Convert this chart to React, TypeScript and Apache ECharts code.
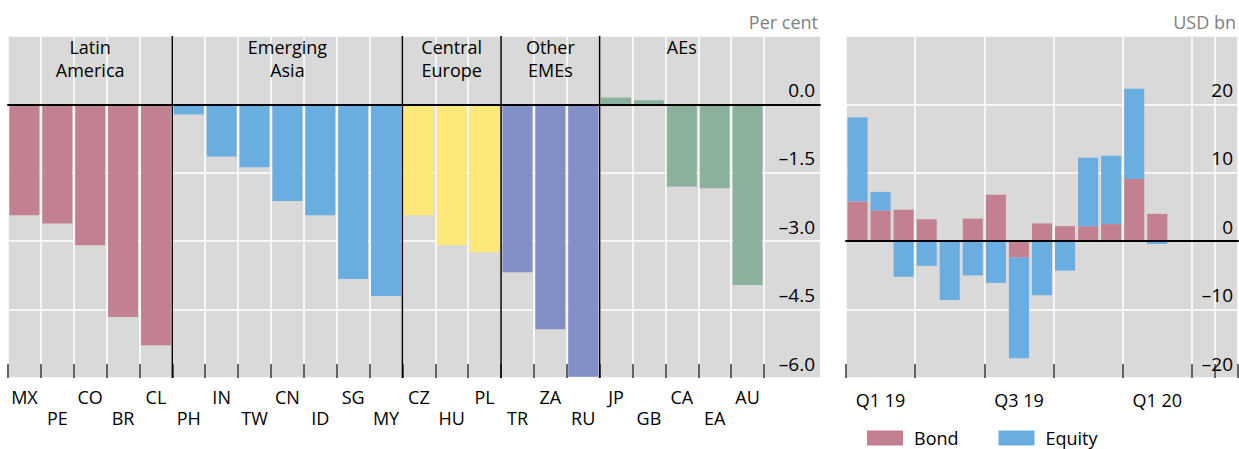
import React, { useEffect, useRef } from "react";
import * as echarts from "echarts";

const FONT = "'Open Sans', 'Noto Sans', sans-serif";

// Left panel: change, per cent
const countries = ["MX", "PE", "CO", "BR", "CL", "PH", "IN", "TW", "CN", "ID", "SG", "MY", "CZ", "HU", "PL", "TR", "ZA", "RU", "JP", "GB", "CA", "EA", "AU"];
const countryValues = [-2.43, -2.61, -3.09, -4.66, -5.28, -0.22, -1.14, -1.38, -2.12, -2.43, -3.83, -4.2, -2.43, -3.09, -3.24, -3.68, -4.93, -5.97, 0.15, 0.09, -1.8, -1.84, -3.96];
const regionNames = ["Latin\nAmerica", "Emerging\nAsia", "Central\nEurope", "Other\nEMEs", "AEs"];
const regionSizes = [5, 7, 3, 3, 5];
const regionColors = ["#c28090", "#6aade0", "#fee879", "#8290c7", "#8bb09b"];

// Right panel: USD bn, monthly
const months = ["Jan 19", "Feb 19", "Mar 19", "Apr 19", "May 19", "Jun 19", "Jul 19", "Aug 19", "Sep 19", "Oct 19", "Nov 19", "Dec 19", "Jan 20", "Feb 20", "Mar 20", "Apr 20", "May 20"];
const quarterTickLabels: Record<number, string> = { 1: "Q1 19", 7: "Q3 19", 13: "Q1 20" };
const bond = [5.8, 4.5, 4.6, 3.2, 0, 3.3, 6.8, -2.4, 2.6, 2.2, 2.2, 2.5, 9.1, 4.0];
const equity = [12.3, 2.7, -5.2, -3.6, -8.6, -5.0, -6.1, -14.7, -7.9, -4.3, 10.0, 10.0, 13.2, -0.4];

const BG = "#d9d9d9";
const TXT = "#000";

const fmtMinus = (s: string) => s.replace("-", "\u2013");

export default function App() {
  const ref = useRef<HTMLDivElement>(null);
  useEffect(() => {
    document.body.style.margin = "0";
    const chart = echarts.init(ref.current!, null, { renderer: "svg" });

    const colorOf: string[] = [];
    regionSizes.forEach((n, r) => {
      for (let k = 0; k < n; k++) colorOf.push(regionColors[r]);
    });

    const option: any = {
      animation: false,
      textStyle: { fontFamily: FONT },
      grid: [
        { left: 8, top: 36, width: 812, height: 342, show: true, backgroundColor: BG, borderWidth: 0 },
        { left: 8, top: 36, width: 756, height: 342 },
        { left: 846, top: 36, width: 392, height: 342, show: true, backgroundColor: BG, borderWidth: 0 },
        { left: 846, top: 36, width: 392, height: 342 },
      ],
      xAxis: [
        {
          gridIndex: 0, type: "value", min: 0, max: 1, z: 10,
          axisLine: { show: true, onZero: true, lineStyle: { color: "#000", width: 2 } },
          axisTick: { show: false }, axisLabel: { show: false }, splitLine: { show: false },
        },
        {
          gridIndex: 1, type: "category", data: countries,
          axisLine: { show: false, onZero: false },
          axisTick: { show: true, inside: true, length: 14, interval: 0, lineStyle: { color: "#333", width: 1.5 } },
          splitLine: { show: true, interval: 0, lineStyle: { color: "#fff", width: 1.5 } },
          axisLabel: {
            interval: 0, fontSize: 18, color: TXT, lineHeight: 21, margin: 8, fontFamily: FONT,
            formatter: (v: string, i: number) => (i % 2 ? "\n" + v : v),
          },
        },
        {
          gridIndex: 2, type: "category", data: months,
          axisLine: { show: false, onZero: false },
          axisTick: { show: true, inside: true, length: 14, interval: 2, lineStyle: { color: "#333", width: 1.5 } },
          splitLine: { show: true, interval: 2, lineStyle: { color: "#fff", width: 1.5 } },
          axisLabel: {
            interval: 0, fontSize: 18, color: TXT, margin: 13, fontFamily: FONT,
            formatter: (_v: string, i: number) => quarterTickLabels[i] || "",
          },
        },
        {
          gridIndex: 3, type: "value", min: 0, max: 1, z: 10,
          axisLine: { show: true, onZero: true, lineStyle: { color: "#000", width: 2 } },
          axisTick: { show: false }, axisLabel: { show: false }, splitLine: { show: false },
        },
      ],
      yAxis: [
        {
          gridIndex: 0, type: "value", min: -6, max: 1.5, interval: 1.5, position: "right",
          axisLine: { show: false }, axisTick: { show: false },
          splitLine: { show: true, lineStyle: { color: "#fff", width: 1.5 } },
          axisLabel: {
            inside: true, showMaxLabel: false, verticalAlign: "bottom", fontSize: 19, margin: 5, color: TXT, fontFamily: FONT,
            padding: [0, 0, 5, 0],
            formatter: (v: number) => fmtMinus(v.toFixed(1)),
          },
        },
        { gridIndex: 1, type: "value", min: -6, max: 1.5, interval: 1.5, show: false },
        {
          gridIndex: 2, type: "value", min: -20, max: 30, interval: 10, position: "right",
          axisLine: { show: false }, axisTick: { show: false },
          splitLine: { show: true, lineStyle: { color: "#fff", width: 1.5 } },
          axisLabel: {
            inside: true, showMaxLabel: false, verticalAlign: "bottom", fontSize: 19, margin: 5, color: TXT, fontFamily: FONT,
            padding: [0, 0, 5, 0],
            formatter: (v: number) => fmtMinus(String(v)),
          },
        },
        { gridIndex: 3, type: "value", min: -20, max: 30, interval: 10, show: false },
      ],
      legend: {
        data: ["Bond", "Equity"], left: 867, top: 429, padding: 0, itemWidth: 36, itemHeight: 15, itemGap: 40,
        icon: "rect", textStyle: { fontSize: 18, color: TXT, fontFamily: FONT, padding: [0, 0, 0, 6] },
      },
      series: [
        {
          type: "bar", xAxisIndex: 1, yAxisIndex: 1, barCategoryGap: "9%",
          data: countryValues.map((v, i) => ({ value: v, itemStyle: { color: colorOf[i] } })),
        },
        {
          name: "Bond", type: "bar", stack: "flows", xAxisIndex: 2, yAxisIndex: 2, barCategoryGap: "13%",
          itemStyle: { color: "#c28090" }, data: bond,
        },
        {
          name: "Equity", type: "bar", stack: "flows", xAxisIndex: 2, yAxisIndex: 2, barCategoryGap: "13%",
          itemStyle: { color: "#6aade0" }, data: equity,
        },
      ],
    };
    chart.setOption(option);

    // separators and region labels from the category scale
    const px = (i: number) => chart.convertToPixel({ xAxisIndex: 1 }, countries[i]) as number;
    const yTop = chart.convertToPixel({ yAxisIndex: 1 }, 1.5) as number;
    const yBot = chart.convertToPixel({ yAxisIndex: 1 }, -6) as number;
    const graphics: any[] = [];
    let start = 0;
    regionSizes.forEach((n, r) => {
      const end = start + n - 1;
      graphics.push({
        type: "text", z: 20,
        style: {
          text: regionNames[r], x: (px(start) + px(end)) / 2, y: yTop,
          textAlign: "center", textVerticalAlign: "top", fontSize: 18, lineHeight: 22.5,
          fontFamily: FONT, fill: TXT,
        },
      });
      if (r > 0) {
        const bx = (px(start - 1) + px(start)) / 2;
        graphics.push({
          type: "line", z: 20,
          shape: { x1: bx, y1: yTop, x2: bx, y2: yBot },
          style: { stroke: "#000", lineWidth: 1.5 },
        });
      }
      start = end + 1;
    });
    graphics.push({
      type: "text", z: 20,
      style: { text: "Per cent", x: 818, y: 22, textAlign: "right", textVerticalAlign: "middle", fontSize: 18, fontFamily: FONT, fill: "#7f7f7f" },
    });
    graphics.push({
      type: "text", z: 20,
      style: { text: "USD bn", x: 1236, y: 22, textAlign: "right", textVerticalAlign: "middle", fontSize: 18, fontFamily: FONT, fill: "#7f7f7f" },
    });
    chart.setOption({ graphic: graphics });

    return () => chart.dispose();
  }, []);
  return <div ref={ref} style={{ width: 1239, height: 449, overflow: "hidden" }} />;
}
